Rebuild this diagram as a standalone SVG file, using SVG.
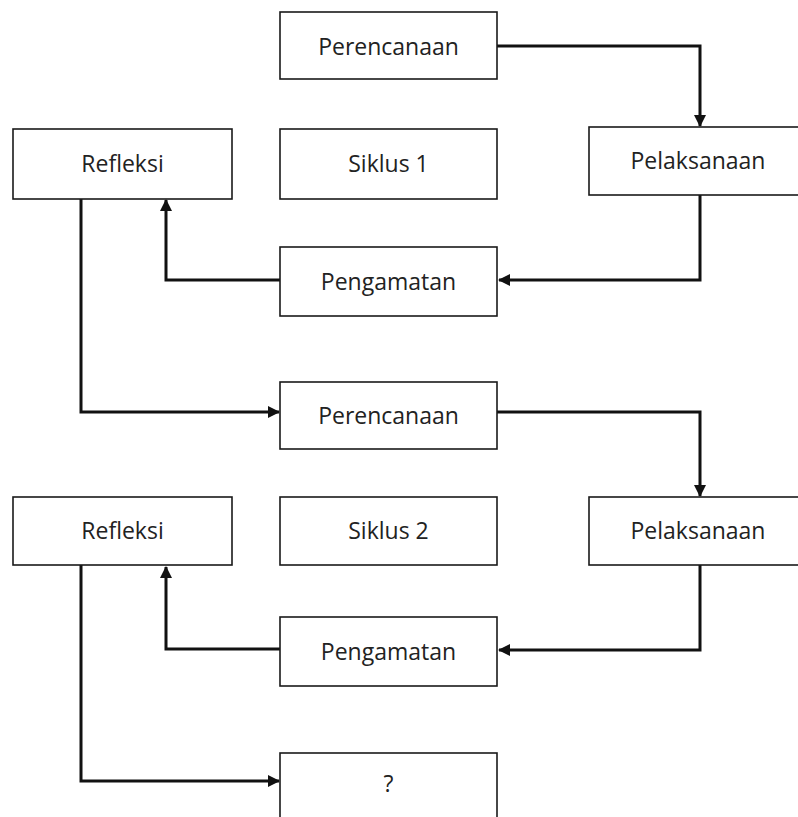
<svg xmlns="http://www.w3.org/2000/svg" width="798" height="817" viewBox="0 0 798 817">
<defs>
<style>
.box{fill:#fff;stroke:#1a1a1a;stroke-width:1.6}
.lbl{font-family:"Open Sans","DejaVu Sans",sans-serif;font-size:23px;fill:#222;text-anchor:middle}
.con{fill:none;stroke:#111;stroke-width:3}
</style>
<marker id="ah" markerWidth="12" markerHeight="12" refX="11" refY="6" orient="auto" markerUnits="userSpaceOnUse" viewBox="0 0 12 12">
<path d="M0,0 L12,6 L0,12 Z" fill="#111"/>
</marker>
</defs>
<rect width="798" height="817" fill="#fff"/>
<g id="connectors">
<path class="con" d="M497,46 H700 V126" marker-end="url(#ah)"/>
<path class="con" d="M700,195 V280 H499" marker-end="url(#ah)"/>
<path class="con" d="M280,280 H166 V200" marker-end="url(#ah)"/>
<path class="con" d="M81,199 V412 H279" marker-end="url(#ah)"/>
<path class="con" d="M497,412 H700 V496" marker-end="url(#ah)"/>
<path class="con" d="M700,565 V650 H499" marker-end="url(#ah)"/>
<path class="con" d="M280,649 H166 V567" marker-end="url(#ah)"/>
<path class="con" d="M81,565 V781 H279" marker-end="url(#ah)"/>
</g>
<g id="perencanaan1"><rect class="box" x="280" y="12" width="217" height="67"/><text class="lbl" x="388.5" y="55">Perencanaan</text></g>
<g id="refleksi1"><rect class="box" x="13" y="129" width="219" height="70"/><text class="lbl" x="122.5" y="172">Refleksi</text></g>
<g id="siklus1"><rect class="box" x="280" y="129" width="217" height="70"/><text class="lbl" x="388.5" y="172">Siklus 1</text></g>
<g id="pelaksanaan1"><rect class="box" x="589" y="127" width="220" height="68"/><text class="lbl" x="698" y="169">Pelaksanaan</text></g>
<g id="pengamatan1"><rect class="box" x="280" y="247" width="217" height="69"/><text class="lbl" x="388.5" y="290">Pengamatan</text></g>
<g id="perencanaan2"><rect class="box" x="280" y="382" width="217" height="67"/><text class="lbl" x="388.5" y="424">Perencanaan</text></g>
<g id="refleksi2"><rect class="box" x="13" y="497" width="219" height="68"/><text class="lbl" x="122.5" y="539">Refleksi</text></g>
<g id="siklus2"><rect class="box" x="280" y="497" width="217" height="68"/><text class="lbl" x="388.5" y="539">Siklus 2</text></g>
<g id="pelaksanaan2"><rect class="box" x="589" y="497" width="220" height="68"/><text class="lbl" x="698" y="539">Pelaksanaan</text></g>
<g id="pengamatan2"><rect class="box" x="280" y="617" width="217" height="69"/><text class="lbl" x="388.5" y="660">Pengamatan</text></g>
<g id="next"><rect class="box" x="280" y="753" width="217" height="80"/><text class="lbl" x="388.5" y="792">?</text></g>
</svg>
